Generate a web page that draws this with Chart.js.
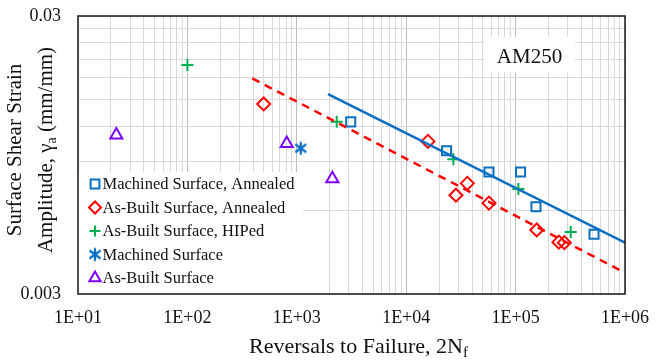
<!DOCTYPE html>
<html><head><meta charset="utf-8">
<script src="https://cdn.jsdelivr.net/npm/chart.js@4/dist/chart.umd.min.js"></script>
<style>html,body{margin:0;padding:0;background:#fff;}canvas{display:block;}</style>
</head><body>
<canvas id="c" width="667" height="361"></canvas>
<script>
// ---- data ----
const machinedAnnealedX = [3110, 23400, 57100, 111000, 153500, 521000];
const machinedAnnealedY = [0.01248, 0.00983, 0.00824, 0.00824, 0.00618, 0.00492];
const asBuiltAnnealedX = [498, 15800, 36200, 28500, 57100, 156000, 249000, 279000];
const asBuiltAnnealedY = [0.01448, 0.01062, 0.0075, 0.0068, 0.00637, 0.0051, 0.00461, 0.00459];
const asBuiltHipedX = [100, 2317, 26980, 106000, 319000];
const asBuiltHipedY = [0.0200, 0.0125, 0.00915, 0.00716, 0.00501];
const machinedX = [1086];
const machinedY = [0.01003];
const asBuiltX = [22.4, 809, 2113];
const asBuiltY = [0.0112, 0.01043, 0.00779];
const machinedFitX = [1928, 1000000];
const machinedFitY = [0.01572, 0.00459];
const asBuiltFitX = [392, 914000];
const asBuiltFitY = [0.0179, 0.00364];
const seriesNames = ['Machined Surface, Annealed', 'As-Built Surface, Annealed', 'As-Built Surface, HIPed', 'Machined Surface', 'As-Built Surface'];
const xTickValues = [10,20,30,40,50,60,70,80,90,100,200,300,400,500,600,700,800,900,1000,2000,3000,4000,5000,6000,7000,8000,9000,10000,20000,30000,40000,50000,60000,70000,80000,90000,100000,200000,300000,400000,500000,600000,700000,800000,900000,1000000];
const xTickLabels = ['1E+01','','','','','','','','','1E+02','','','','','','','','','1E+03','','','','','','','','','1E+04','','','','','','','','','1E+05','','','','','','','','','1E+06'];
const yTickValues = [0.003,0.006,0.009,0.012,0.015,0.018,0.021,0.024,0.027,0.03];
const yTickLabels = ['0.003','','','','','','','','','0.03'];
const xTitle = 'Reversals to Failure, 2N';
const xTitleSub = 'f';
const yTitleLine1 = 'Surface Shear Strain';
const yTitleLine2a = 'Amplitude, \u03B3';
const yTitleLine2Sub = 'a';
const yTitleLine2b = ' (mm/mm)';
const boxLabel = 'AM250';

const FONT = '"Liberation Serif", "Times New Roman", Times, serif';
const BLUE = '#0a6fc2', RED = '#ff0000', GREEN = '#00b050', PURPLE = '#7f00ff';
const pts = (xs, ys) => xs.map((x, i) => ({x, y: ys[i]}));

// asterisk marker image
const ast = document.createElement('canvas');
ast.width = 16; ast.height = 16;
(function(){ const g = ast.getContext('2d'); g.strokeStyle = BLUE; g.lineWidth = 2.2; g.lineCap='butt';
  g.beginPath(); g.moveTo(8,1.5); g.lineTo(8,14.5);
  g.moveTo(2.5,4); g.lineTo(13.5,12); g.moveTo(2.5,12); g.lineTo(13.5,4); g.stroke(); })();

function drawMarker(ctx, type, x, y, color){
  ctx.save(); ctx.strokeStyle = color; ctx.lineWidth = 2; ctx.beginPath();
  if (type === 'rect'){ const s = Math.SQRT1_2*6.2; ctx.rect(x-s, y-s, 2*s, 2*s); ctx.stroke(); }
  else if (type === 'rectRot'){ const r = 6; ctx.moveTo(x-r,y); ctx.lineTo(x,y-r); ctx.lineTo(x+r,y); ctx.lineTo(x,y+r); ctx.closePath(); ctx.stroke(); }
  else if (type === 'cross'){ const r = 5.5; ctx.moveTo(x-r,y); ctx.lineTo(x+r,y); ctx.moveTo(x,y-r); ctx.lineTo(x,y+r); ctx.stroke(); }
  else if (type === 'triangle'){ const r = 6.5; ctx.moveTo(x, y-r); ctx.lineTo(x+r*Math.sin(Math.PI*2/3), y+r/2); ctx.lineTo(x-r*Math.sin(Math.PI*2/3), y+r/2); ctx.closePath(); ctx.stroke(); }
  else if (type === 'ast'){ ctx.drawImage(ast, x-8, y-8); }
  ctx.restore();
}

const overlay = {
  id: 'overlay',
  beforeDatasetsDraw(chart){
    const ctx = chart.ctx, a = chart.chartArea;
    ctx.save();
    ctx.fillStyle = '#fff';
    ctx.fillRect(a.left, a.bottom - 122, 225, 122);
    ctx.fillRect(484, 37, 91, 35);
    ctx.fillStyle = '#111';
    ctx.font = '21px ' + FONT;
    ctx.textAlign = 'center'; ctx.textBaseline = 'alphabetic';
    ctx.fillText(boxLabel, 529.5, 63);
    ctx.restore();
  },
  afterDatasetsDraw(chart){
    const ctx = chart.ctx, a = chart.chartArea;
    ctx.save();
    const types = ['rect','rectRot','cross','ast','triangle'];
    const colors = [BLUE, RED, GREEN, BLUE, PURPLE];
    ctx.font = '16.5px ' + FONT; ctx.fillStyle = '#111'; ctx.textBaseline = 'middle'; ctx.textAlign = 'left';
    for (let i = 0; i < 5; i++){
      const y = a.bottom - 110 + i*23.5;
      drawMarker(ctx, types[i], a.left + 17, y, colors[i]);
      ctx.fillText(seriesNames[i], a.left + 24.5, y + 1);
    }
    ctx.strokeStyle = '#1a1a1a'; ctx.lineWidth = 1.5;
    ctx.strokeRect(a.left, a.top, a.right - a.left, a.bottom - a.top);
    ctx.fillStyle = '#111'; ctx.textBaseline = 'alphabetic';
    ctx.font = '22px ' + FONT;
    const w1 = ctx.measureText(xTitle).width;
    ctx.font = '15px ' + FONT;
    const w2 = ctx.measureText(xTitleSub).width;
    const x0 = 358.5 - (w1 + w2)/2;
    ctx.font = '22px ' + FONT; ctx.fillText(xTitle, x0, 353);
    ctx.font = '15px ' + FONT; ctx.fillText(xTitleSub, x0 + w1, 357);
    ctx.save();
    ctx.translate(21, 150); ctx.rotate(-Math.PI/2);
    ctx.font = '21px ' + FONT; ctx.textAlign = 'center';
    ctx.fillText(yTitleLine1, 0, 0);
    ctx.restore();
    ctx.save();
    ctx.translate(52, 150); ctx.rotate(-Math.PI/2);
    ctx.textAlign = 'left';
    ctx.font = '21px ' + FONT; const a1 = ctx.measureText(yTitleLine2a).width; const a3 = ctx.measureText(yTitleLine2b).width;
    ctx.font = '14px ' + FONT; const a2 = ctx.measureText(yTitleLine2Sub).width;
    let sx = -(a1 + a2 + a3)/2;
    ctx.font = '21px ' + FONT; ctx.fillText(yTitleLine2a, sx, 0); sx += a1;
    ctx.font = '14px ' + FONT; ctx.fillText(yTitleLine2Sub, sx, 4); sx += a2;
    ctx.font = '21px ' + FONT; ctx.fillText(yTitleLine2b, sx, 0);
    ctx.restore();
    ctx.restore();
  }
};

const decade = v => Math.abs(Math.log10(v) - Math.round(Math.log10(v))) < 1e-9;

new Chart(document.getElementById('c'), {
  type: 'scatter',
  data: { datasets: [
    { label: 'Machined Surface, Annealed fit', data: pts(machinedFitX, machinedFitY), showLine: true, borderColor: BLUE, borderWidth: 2.5, pointRadius: 0, fill: false },
    { label: 'As-Built Surface, Annealed fit', data: pts(asBuiltFitX, asBuiltFitY), showLine: true, borderColor: RED, borderWidth: 2.5, borderDash: [8,6], pointRadius: 0, fill: false },
    { label: seriesNames[0], data: pts(machinedAnnealedX, machinedAnnealedY), pointStyle: 'rect', pointRadius: 6.4, borderColor: BLUE, borderWidth: 2, backgroundColor: 'rgba(0,0,0,0)' },
    { label: seriesNames[1], data: pts(asBuiltAnnealedX, asBuiltAnnealedY), pointStyle: 'rectRot', pointRadius: 6.5, borderColor: RED, borderWidth: 2, backgroundColor: 'rgba(0,0,0,0)' },
    { label: seriesNames[2], data: pts(asBuiltHipedX, asBuiltHipedY), pointStyle: 'cross', pointRadius: 6, borderColor: GREEN, borderWidth: 2, backgroundColor: 'rgba(0,0,0,0)' },
    { label: seriesNames[3], data: pts(machinedX, machinedY), pointStyle: ast, pointRadius: 8, borderColor: BLUE, borderWidth: 2 },
    { label: seriesNames[4], data: pts(asBuiltX, asBuiltY), pointStyle: 'triangle', pointRadius: 7, borderColor: PURPLE, borderWidth: 2, backgroundColor: 'rgba(0,0,0,0)' }
  ]},
  options: {
    responsive: false, animation: false, devicePixelRatio: 1,
    layout: { padding: { top: 16, right: 42, left: 0, bottom: 0 } },
    plugins: { legend: { display: false }, tooltip: { enabled: false } },
    scales: {
      x: {
        type: 'logarithmic', min: 10, max: 1000000,
        afterBuildTicks: s => { s.ticks = xTickValues.map(v => ({ value: v })); },
        afterFit: s => { s.height = 67; s.paddingLeft = 0; s.paddingRight = 0; s.paddingTop = 0; s.paddingBottom = 0; },
        grid: { color: c => (c.tick && decade(c.tick.value)) ? '#bcbcbc' : '#d9d9d9', lineWidth: 1, drawTicks: false },
        border: { display: false },
        ticks: { callback: (v, i) => xTickLabels[i], font: { family: FONT, size: 18 }, color: '#111', padding: 13, autoSkip: false, maxRotation: 0, minRotation: 0, major: { enabled: false } }
      },
      y: {
        type: 'logarithmic', min: 0.003, max: 0.03,
        afterBuildTicks: s => { s.ticks = yTickValues.map(v => ({ value: v })); },
        afterFit: s => { s.width = 78; s.paddingLeft = 0; s.paddingRight = 0; s.paddingTop = 0; s.paddingBottom = 0; },
        grid: { color: '#d9d9d9', lineWidth: 1, drawTicks: false },
        border: { display: false },
        ticks: { callback: (v, i) => yTickLabels[i], font: { family: FONT, size: 18 }, color: '#111', padding: 17, autoSkip: false, major: { enabled: false } }
      }
    }
  },
  plugins: [overlay]
});
</script>
</body></html>
